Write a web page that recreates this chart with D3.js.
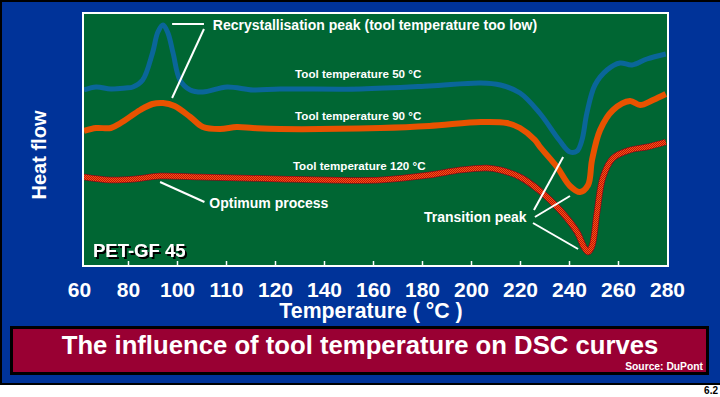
<!DOCTYPE html>
<html>
<head>
<meta charset="utf-8">
<script src="https://cdn.jsdelivr.net/npm/d3@7"></script>
<style>
  body { margin: 0; background: #fff; }
  svg { display: block; font-family: "Liberation Sans", Arial, sans-serif; font-weight: bold; }
</style>
</head>
<body>
<svg id="chart" width="720" height="397"></svg>
<script>
// axis labels as printed on the slide (note the odd "110")
const tickValues = [60, 80, 100, 110, 120, 140, 160, 180, 200, 220, 240, 260, 280];
const tickLabels = ["60", "80", "100", "110", "120", "140", "160", "180", "200", "220", "240", "260", "280"];

// [temperature °C, heat flow (arbitrary units)]
const tool50 = [
    [62, 177], [67, 180], [73, 178], [79, 179], [82, 180], [86, 187], [90, 214], [92.2, 235],
    [94.3, 242], [96.3, 234], [98.4, 214], [100.6, 187], [102.7, 177], [105.3, 175], [110.2, 180],
    [115.5, 177], [122, 178], [155, 178], [183, 181], [204, 184], [212, 182], [220, 174],
    [228, 154], [236, 127], [240.4, 115], [243.3, 116], [245.3, 127], [247.3, 154], [250.6, 182],
    [255.5, 197], [260.8, 204], [265.7, 202], [271.8, 208], [279.5, 213]
];
const tool90 = [
    [62, 136], [67, 139], [73, 139], [77, 144], [85, 157], [90, 163], [94.3, 164], [99, 161],
    [102.7, 150], [105.3, 140], [108.8, 138], [112.2, 140], [115.5, 139], [122, 138], [163, 139],
    [183, 141], [204, 145], [214.7, 144], [220, 139], [226.1, 127], [228.2, 120], [235.1, 100],
    [240.4, 81], [244.5, 75], [247.8, 82], [249.4, 107], [252.7, 137], [258, 157], [264.9, 166],
    [269, 162], [274.3, 167], [279.5, 173]
];
const tool120 = [
    [62, 90], [72.7, 87], [82.9, 88], [93.1, 91], [104.6, 90], [112.7, 89], [122, 88], [141, 87],
    [163, 87], [183, 92], [195.5, 97], [206.5, 99], [212, 97], [220, 90], [228.2, 76], [236.3, 57],
    [243.3, 35], [246.1, 20], [247.8, 15], [249.4, 21], [251.4, 54], [253.9, 90], [258, 109],
    [264.9, 117], [271.8, 120], [279.5, 125]
];

// annotation texts, anchored in data units
const noteTexts = [
    "Recrystallisation peak (tool temperature too low)",
    "Tool temperature 50 °C",
    "Tool temperature 90 °C",
    "Tool temperature 120 °C",
    "Optimum process",
    "Transition peak"
];
const noteAnchors = [[107.3, 237], [128.2, 189], [128.2, 147], [127.3, 97], [106.6, 59], [180.8, 45]];
const leaderLines = [
    [[98.0, 243], [105.5, 243]],
    [[105.5, 238], [98.0, 169]],
    [[93.1, 85], [105.6, 65]],
    [[225.7, 57], [237.6, 110]],
    [[226.1, 50], [240.4, 71]],
    [[225.3, 44], [243.7, 18]]
];

const svg = d3.select("#chart");
const width = 720;

const plot = {left: 83, top: 13, right: 668, bottom: 266};

// labels are evenly spaced, so the temperature scale is piecewise linear
const labelPos = d3.scalePoint().domain(tickLabels).range([79, 667]);
const x = d3.scaleLinear()
    .domain(tickValues)
    .range(tickLabels.map(d => labelPos(d)));
const y = d3.scaleLinear().domain([0, 255]).range([267, 12]);

const defs = svg.append("defs");
defs.append("clipPath").attr("id", "plotClip")
    .append("rect")
    .attr("x", plot.left + 1).attr("y", plot.top + 1)
    .attr("width", plot.right - plot.left - 2).attr("height", plot.bottom - plot.top - 2);

const dither = defs.append("pattern").attr("id", "dither")
    .attr("width", 2).attr("height", 2).attr("patternUnits", "userSpaceOnUse");
dither.append("rect").attr("width", 2).attr("height", 2).attr("fill", "#ff5010");
dither.append("rect").attr("width", 1).attr("height", 1).attr("fill", "#b8140c");
dither.append("rect").attr("x", 1).attr("y", 1).attr("width", 1).attr("height", 1).attr("fill", "#b8140c");

const shadow = defs.append("filter").attr("id", "shadow")
    .attr("x", "-10%").attr("y", "-30%").attr("width", "130%").attr("height", "160%");
shadow.append("feDropShadow")
    .attr("dx", 2).attr("dy", 2).attr("stdDeviation", 0)
    .attr("flood-color", "#000").attr("flood-opacity", 1);

// slide background
svg.append("rect").attr("width", width).attr("height", 385).attr("fill", "#000");
svg.append("rect").attr("x", 2).attr("y", 2).attr("width", width - 2).attr("height", 381).attr("fill", "#003399");

// plot panel
svg.append("rect")
    .attr("x", plot.left).attr("y", plot.top)
    .attr("width", plot.right - plot.left).attr("height", plot.bottom - plot.top)
    .attr("fill", "#006633")
    .attr("stroke", "#fff")
    .attr("stroke-width", 2);

const line = d3.line()
    .x(d => x(d[0]))
    .y(d => y(d[1]))
    .curve(d3.curveCatmullRom.alpha(0.5));

const curves = svg.append("g").attr("clip-path", "url(#plotClip)");

curves.append("path")
    .attr("d", line(tool50))
    .attr("fill", "none")
    .attr("stroke", "#0a6699")
    .attr("stroke-width", 5);

curves.append("path")
    .attr("d", line(tool90))
    .attr("fill", "none")
    .attr("stroke", "#e85200")
    .attr("stroke-width", 6);

curves.append("path")
    .attr("d", line(tool120))
    .attr("fill", "none")
    .attr("stroke", "#8a0c18")
    .attr("stroke-width", 6.5);
curves.append("path")
    .attr("d", line(tool120))
    .attr("fill", "none")
    .attr("stroke", "url(#dither)")
    .attr("stroke-width", 5);

// leader lines
svg.append("g").selectAll("line")
    .data(leaderLines)
    .enter().append("line")
    .attr("x1", d => x(d[0][0])).attr("y1", d => y(d[0][1]))
    .attr("x2", d => x(d[1][0])).attr("y2", d => y(d[1][1]))
    .attr("stroke", "#fff")
    .attr("stroke-width", 2);

const noteSizes = [14, 11.6, 11.6, 11.6, 14, 14];
svg.append("g").selectAll("text")
    .data(noteTexts)
    .enter().append("text")
    .attr("x", (d, i) => x(noteAnchors[i][0]))
    .attr("y", (d, i) => y(noteAnchors[i][1]))
    .attr("font-size", (d, i) => noteSizes[i] + "px")
    .attr("fill", "#fff")
    .text(d => d);

// material label with drop shadow
svg.append("text")
    .attr("x", 93).attr("y", 257)
    .attr("font-size", "18.5px")
    .attr("fill", "#fff")
    .attr("filter", "url(#shadow)")
    .text("PET-GF 45");

// x axis: ticks point up into the panel, labels below
const xAxis = d3.axisBottom(x)
    .tickValues(tickValues)
    .tickFormat((d, i) => tickLabels[i])
    .tickSize(-4)
    .tickPadding(17);

const axisG = svg.append("g")
    .attr("transform", `translate(0,${plot.bottom - 1})`)
    .call(xAxis);
axisG.select(".domain").remove();
axisG.selectAll(".tick line")
    .attr("stroke", "#fff")
    .attr("stroke-width", 1.5)
    .attr("opacity", (d, i) => (i === 0 || i === tickValues.length - 1) ? 0 : 1);
axisG.selectAll(".tick text")
    .attr("fill", "#fff")
    .attr("font-size", "21px")
    .attr("font-family", "Liberation Sans, Arial, sans-serif")
    .attr("font-weight", "bold");

svg.append("text")
    .attr("x", 371).attr("y", 318)
    .attr("text-anchor", "middle")
    .attr("font-size", "21.3px")
    .attr("fill", "#fff")
    .text("Temperature ( °C )");

svg.append("text")
    .attr("transform", "translate(46,155) rotate(-90)")
    .attr("text-anchor", "middle")
    .attr("font-size", "20px")
    .attr("fill", "#fff")
    .text("Heat flow");

// title bar
svg.append("rect")
    .attr("x", 11.5).attr("y", 327.5)
    .attr("width", 696).attr("height", 46)
    .attr("fill", "#990033")
    .attr("stroke", "#000")
    .attr("stroke-width", 3);

svg.append("text")
    .attr("x", 360).attr("y", 354)
    .attr("text-anchor", "middle")
    .attr("font-size", "25.7px")
    .attr("fill", "#fff")
    .text("The influence of tool temperature on DSC curves");

svg.append("text")
    .attr("x", 703).attr("y", 370)
    .attr("text-anchor", "end")
    .attr("font-size", "10.3px")
    .attr("fill", "#fff")
    .text("Source: DuPont");

svg.append("text")
    .attr("x", 718).attr("y", 394)
    .attr("text-anchor", "end")
    .attr("font-size", "10px")
    .attr("fill", "#000")
    .text("6.2");
</script>
</body>
</html>
